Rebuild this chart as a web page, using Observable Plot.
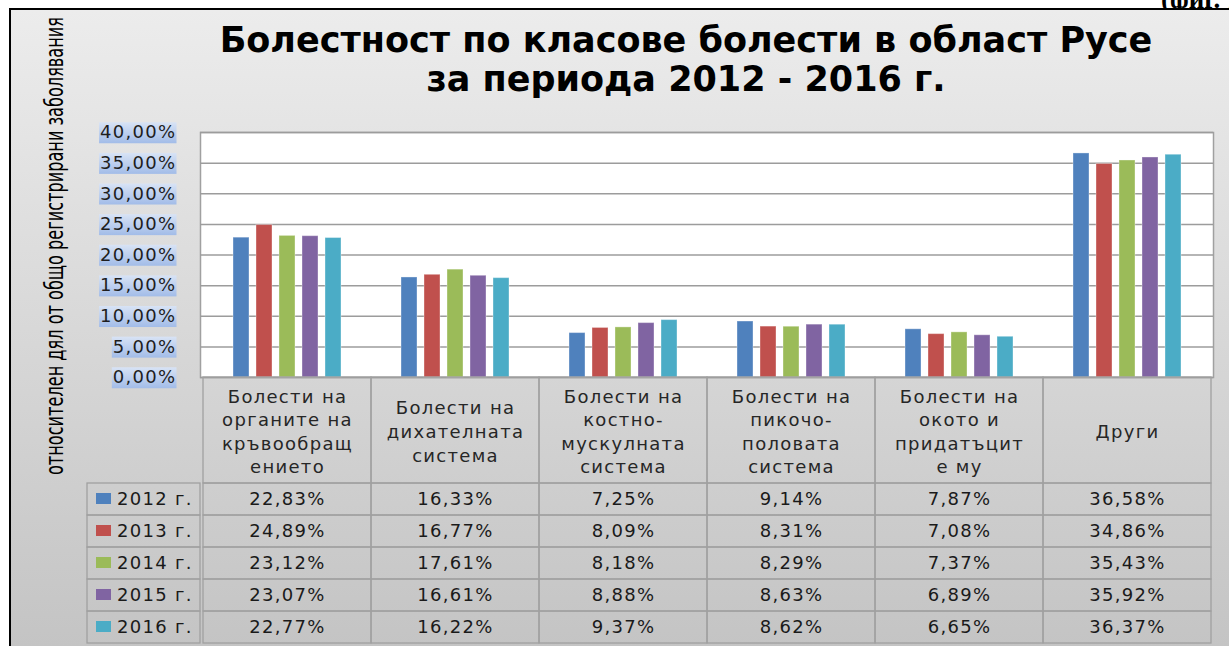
<!DOCTYPE html>
<html><head><meta charset="utf-8">
<script src="https://cdn.jsdelivr.net/npm/d3@7"></script>
<script src="https://cdn.jsdelivr.net/npm/@observablehq/plot@0.6"></script>
<style>
html,body{margin:0;padding:0;background:#fff;width:1229px;height:646px;overflow:hidden;}
#page{position:relative;width:1229px;height:646px;overflow:hidden;}
#fig{position:absolute;left:1161px;top:-16px;font:bold 27px "Liberation Serif",serif;color:#000;white-space:nowrap;}
#frame{position:absolute;left:9px;top:8px;width:1220px;height:638px;border-left:2.5px solid #000;border-top:2px solid #000;background:linear-gradient(#ececec,#c4c4c4);box-sizing:border-box;}
#title{position:absolute;left:143px;width:1086px;top:21px;text-align:center;font:bold 35px/39px "DejaVu Sans",sans-serif;color:#000;}
svg{overflow:visible;}
</style></head>
<body><div id="page"><div id="fig">(фиг. 1)</div><div id="frame"></div><div id="title"></div></div>
<script>
const titleLines = ["Болестност по класове болести в област Русе", "за периода 2012 - 2016 г."];
const yTitle = "относителен дял от общо регистрирани заболявания";
const categories = [
  "Болести на органите на кръвообращението",
  "Болести на дихателната система",
  "Болести на костно-мускулната система",
  "Болести на пикочо-половата система",
  "Болести на окото и придатъците му",
  "Други"
];
const headerLabels = [
  "Болести на\nорганите на\nкръвообращ\nението",
  "Болести на\nдихателната\nсистема",
  "Болести на\nкостно-\nмускулната\nсистема",
  "Болести на\nпикочо-\nполовата\nсистема",
  "Болести на\nокото и\nпридатъцит\nе му",
  "Други"
];
const years = ["2012 г.", "2013 г.", "2014 г.", "2015 г.", "2016 г."];
const v2012 = [22.83, 16.33, 7.25, 9.14, 7.87, 36.58];
const v2013 = [24.89, 16.77, 8.09, 8.31, 7.08, 34.86];
const v2014 = [23.12, 17.61, 8.18, 8.29, 7.37, 35.43];
const v2015 = [23.07, 16.61, 8.88, 8.63, 6.89, 35.92];
const v2016 = [22.77, 16.22, 9.37, 8.62, 6.65, 36.37];
const colors = ["#4f81bd", "#c0504d", "#9bbb59", "#8064a2", "#4bacc6"];
const yTicks = [0, 5, 10, 15, 20, 25, 30, 35, 40];

const series = [v2012, v2013, v2014, v2015, v2016];
const data = years.flatMap((yr, i) => categories.map((c, j) => ({year: yr, category: c, value: series[i][j]})));
const fmt = v => v.toFixed(2).replace(".", ",") + "%";

const page = document.getElementById("page");
document.getElementById("title").innerHTML = titleLines.join("<br>");

const textStyle = {background: "transparent", fontFamily: "DejaVu Sans", fontSize: "18px", letterSpacing: "1.3px", color: "#1e1e1e", overflow: "visible"};
const lineColor = "#a0a0a0";

function place(el, left, top) {
  el.style.position = "absolute";
  el.style.left = left + "px";
  el.style.top = top + "px";
  el.style.maxWidth = "none";
  page.appendChild(el);
  return el;
}

// y-axis title
const ns = "http://www.w3.org/2000/svg";
const ysvg = document.createElementNS(ns, "svg");
ysvg.setAttribute("width", 100); ysvg.setAttribute("height", 646);
const yt = document.createElementNS(ns, "text");
yt.setAttribute("transform", "translate(63,246) rotate(-90)");
yt.setAttribute("text-anchor", "middle");
yt.setAttribute("textLength", 458);
yt.setAttribute("lengthAdjust", "spacingAndGlyphs");
yt.setAttribute("font-family", "DejaVu Sans");
yt.setAttribute("font-size", 25);
yt.setAttribute("fill", "#000");
yt.textContent = yTitle;
ysvg.appendChild(yt);
place(ysvg, 0, 0);

// plot area background, gridlines, y axis
const grid = Plot.plot({
  width: 1229, height: 270, marginLeft: 200, marginRight: 16, marginTop: 22, marginBottom: 3,
  style: textStyle,
  y: {domain: [0, 40], ticks: yTicks, tickFormat: fmt, tickSize: 0, tickPadding: 24, label: null},
  marks: [
    Plot.frame({fill: "white", stroke: lineColor, strokeWidth: 1.5}),
    Plot.ruleY(yTicks, {stroke: "#9c9c9c", strokeWidth: 1.5})
  ]
});
place(grid, 0, 110);

// blue highlight behind y tick labels
{
  const defs = document.createElementNS(ns, "defs");
  defs.innerHTML = '<linearGradient id="hlgrad" x1="0" y1="0" x2="0" y2="1"><stop offset="0" stop-color="#d8e3f5"/><stop offset="1" stop-color="#a2bce8"/></linearGradient>';
  grid.insertBefore(defs, grid.firstChild);
  grid.querySelectorAll('[aria-label^="y-axis"] text').forEach(t => {
    const b = t.getBBox();
    const r = document.createElementNS(ns, "rect");
    r.setAttribute("x", b.x - 1); r.setAttribute("y", b.y + 1);
    r.setAttribute("width", b.width + 1); r.setAttribute("height", b.height);
    r.setAttribute("fill", "url(#hlgrad)");
    if (t.getAttribute("transform")) r.setAttribute("transform", t.getAttribute("transform"));
    t.parentNode.insertBefore(r, t);
  });
}

// bars
const bars = Plot.plot({
  width: 1229, height: 270, marginLeft: 200, marginRight: 16, marginTop: 22, marginBottom: 3,
  style: {background: "transparent", overflow: "visible"},
  facet: {data, x: "category"},
  fx: {domain: categories, padding: 0, axis: null},
  x: {domain: years, paddingInner: 0.32, paddingOuter: 1.23, axis: null},
  y: {domain: [0, 40], axis: null},
  color: {domain: years, range: colors},
  marks: [
    Plot.barY(data, {x: "year", y: "value", fill: "year", stroke: "white", strokeOpacity: 0.35, strokeWidth: 1})
  ]
});
place(bars, 0, 110);

// table header row
const head = Plot.plot({
  width: 1229, height: 106, marginLeft: 200, marginRight: 16, marginTop: 0, marginBottom: 0,
  style: textStyle,
  x: {domain: categories, padding: 0, axis: null},
  marks: [
    Plot.cell(categories, {x: d => d, fill: "none", stroke: lineColor, strokeWidth: 1.3}),
    Plot.text(categories, {x: d => d, text: (d, i) => headerLabels[i], lineHeight: 1.31, fill: "#262626"})
  ]
});
place(head, 0, 377);

// table value rows
const rows = Plot.plot({
  width: 1229, height: 162, marginLeft: 200, marginRight: 16, marginTop: 1, marginBottom: 1,
  style: textStyle,
  x: {domain: categories, padding: 0, axis: null},
  y: {domain: years, padding: 0, axis: null},
  marks: [
    Plot.cell(data, {x: "category", y: "year", fill: "none", stroke: lineColor, strokeWidth: 1.3}),
    Plot.text(data, {x: "category", y: "year", text: d => fmt(d.value), fill: "#1a1a1a"})
  ]
});
place(rows, 0, 482);

// legend column of the table
const legend = Plot.plot({
  width: 201, height: 162, marginLeft: 87, marginRight: 1, marginTop: 1, marginBottom: 1,
  style: textStyle,
  x: {domain: ["legend"], padding: 0, axis: null},
  y: {domain: years, padding: 0, axis: null},
  color: {domain: years, range: colors},
  marks: [
    Plot.cell(years, {x: () => "legend", y: d => d, fill: "none", stroke: lineColor, strokeWidth: 1.3}),
    Plot.cell(years, {x: () => "legend", y: d => d, fill: d => d, insetLeft: 9, insetRight: 89, insetTop: 10, insetBottom: 11}),
    Plot.text(years, {x: () => "legend", y: d => d, text: d => d, textAnchor: "start", dx: -27, fill: "#1a1a1a"})
  ]
});
place(legend, 0, 482);
</script>
</body></html>
